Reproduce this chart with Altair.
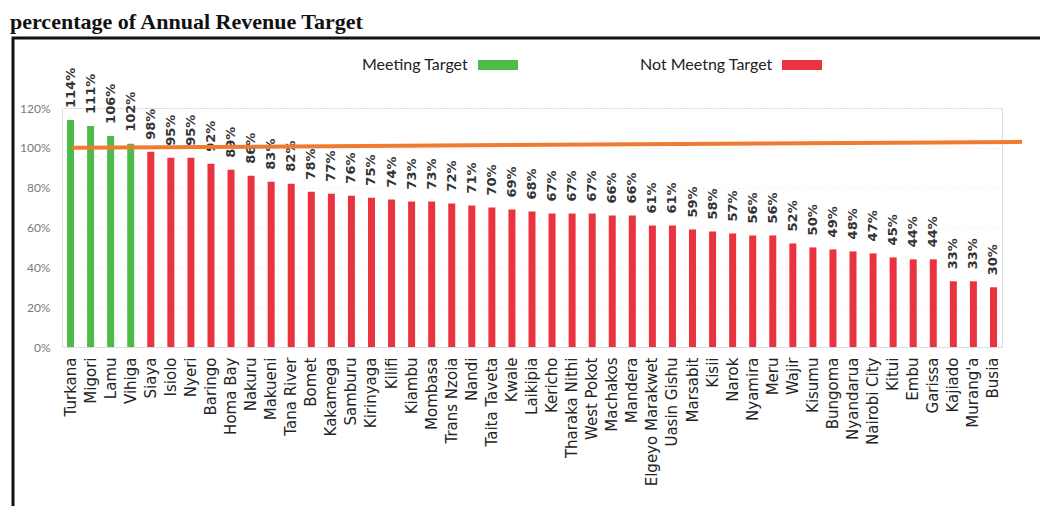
import altair as alt
import pandas as pd

counties = ["Turkana", "Migori", "Lamu", "Vihiga", "Siaya", "Isiolo", "Nyeri", "Baringo",
            "Homa Bay", "Nakuru", "Makueni", "Tana River", "Bomet", "Kakamega", "Samburu",
            "Kirinyaga", "Kilifi", "Kiambu", "Mombasa", "Trans Nzoia", "Nandi", "Taita Taveta",
            "Kwale", "Laikipia", "Kericho", "Tharaka Nithi", "West Pokot", "Machakos", "Mandera",
            "Elgeyo Marakwet", "Uasin Gishu", "Marsabit", "Kisii", "Narok", "Nyamira", "Meru",
            "Wajir", "Kisumu", "Bungoma", "Nyandarua", "Nairobi City", "Kitui", "Embu",
            "Garissa", "Kajiado", "Murang'a", "Busia"]
values = [114, 111, 106, 102, 98, 95, 95, 92, 89, 86, 83, 82, 78, 77, 76, 75, 74, 73, 73,
          72, 71, 70, 69, 68, 67, 67, 67, 66, 66, 61, 61, 59, 58, 57, 56, 56, 52, 50, 49,
          48, 47, 45, 44, 44, 33, 33, 30]
y_ticks = [0, 0.2, 0.4, 0.6, 0.8, 1.0, 1.2]
target = 1.0
legend_labels = ["Meeting Target", "Not Meetng Target"]
legend_colors = ["#4cbb48", "#e9343f"]
title_text = "percentage of Annual Revenue Target"

df = pd.DataFrame({
    "county": counties,
    "pct": [v / 100 for v in values],
    "label": [f"{v}%" for v in values],
    "status": [legend_labels[0] if v >= 100 else legend_labels[1] for v in values],
})

y_scale = alt.Scale(domain=[0, 1.2])
x_scale = alt.Scale(paddingInner=0.65, paddingOuter=0.25)
x_axis = alt.Axis(labelAngle=-90, labelFont="DejaVu Sans", labelFontSize=15,
                  labelColor="#222", labelPadding=10, ticks=False, domain=True,
                  domainColor="#dddddd", labelLimit=200)
y_axis = alt.Axis(values=y_ticks, format=".0%", labelFont="Lato",
                  labelFontSize=12, labelColor="#7a7a7a", labelPadding=12,
                  labelOverlap=False, ticks=False, domain=False, grid=True,
                  gridColor="#eeeeee", gridDash=[2, 3])

color_scale = alt.Scale(domain=legend_labels, range=legend_colors)

base = alt.Chart(df)

bars = base.mark_bar(size=7).encode(
    x=alt.X("county:N", sort=counties, title=None, axis=x_axis, scale=x_scale),
    y=alt.Y("pct:Q", title=None, scale=y_scale, axis=y_axis),
    color=alt.Color("status:N", scale=color_scale, legend=None),
)

labels = base.mark_text(angle=270, align="left", baseline="middle", dx=12,
                        font="DejaVu Sans", fontSize=13, fontWeight=600,
                        color="#333333").encode(
    x=alt.X("county:N", sort=counties, title=None, axis=x_axis, scale=x_scale),
    y=alt.Y("pct:Q", title=None, scale=y_scale, axis=y_axis), text="label:N")

rule_df = pd.DataFrame({"y": [target], "y2": [target + 0.03]})
rule = alt.Chart(rule_df).mark_rule(color="#f07a30", strokeWidth=4).encode(
    x=alt.value(10), x2=alt.value(960),
    y=alt.Y("y:Q", title=None, scale=y_scale, axis=y_axis), y2="y2:Q")

leg_df = pd.DataFrame({"name": legend_labels, "col": legend_colors,
                       "tx": [300, 578], "sx": [416, 720]})
leg_text = alt.Chart(leg_df).mark_text(align="left", baseline="middle",
                                        font="Lato", fontSize=16,
                                        color="#222").encode(
    x=alt.X("tx:Q", scale=None), y=alt.value(-43), text="name:N")
leg_sw = alt.Chart(leg_df).mark_rect().encode(
    x=alt.X("sx:Q", scale=None), x2=alt.X2("sx_end:Q"), y=alt.value(-48), y2=alt.value(-38),
    color=alt.Color("col:N", scale=None)).transform_calculate(sx_end="datum.sx + 40")

frame = alt.Chart(pd.DataFrame({"a": [0]})).mark_rect(fill=None, stroke="#111",
                                                      strokeWidth=3).encode(
    x=alt.value(-49), x2=alt.value(1100), y=alt.value(-70), y2=alt.value(500))

title = alt.Chart(pd.DataFrame({"t": [title_text]})).mark_text(
    align="left", baseline="alphabetic", font="Liberation Serif", fontSize=22,
    fontWeight="bold", color="#111").encode(x=alt.value(-52), y=alt.value(-79), text="t:N")

chart = alt.layer(frame, title, bars, labels, rule, leg_text, leg_sw).properties(
    width=940, height=239,
    autosize=alt.AutoSizeParams(type="none"),
    padding={"left": 54, "top": 100, "right": 38, "bottom": 159},
).configure_view(stroke=None).configure(background="white")

chart.save("out.html", embed_options={"renderer": "svg", "actions": False})
